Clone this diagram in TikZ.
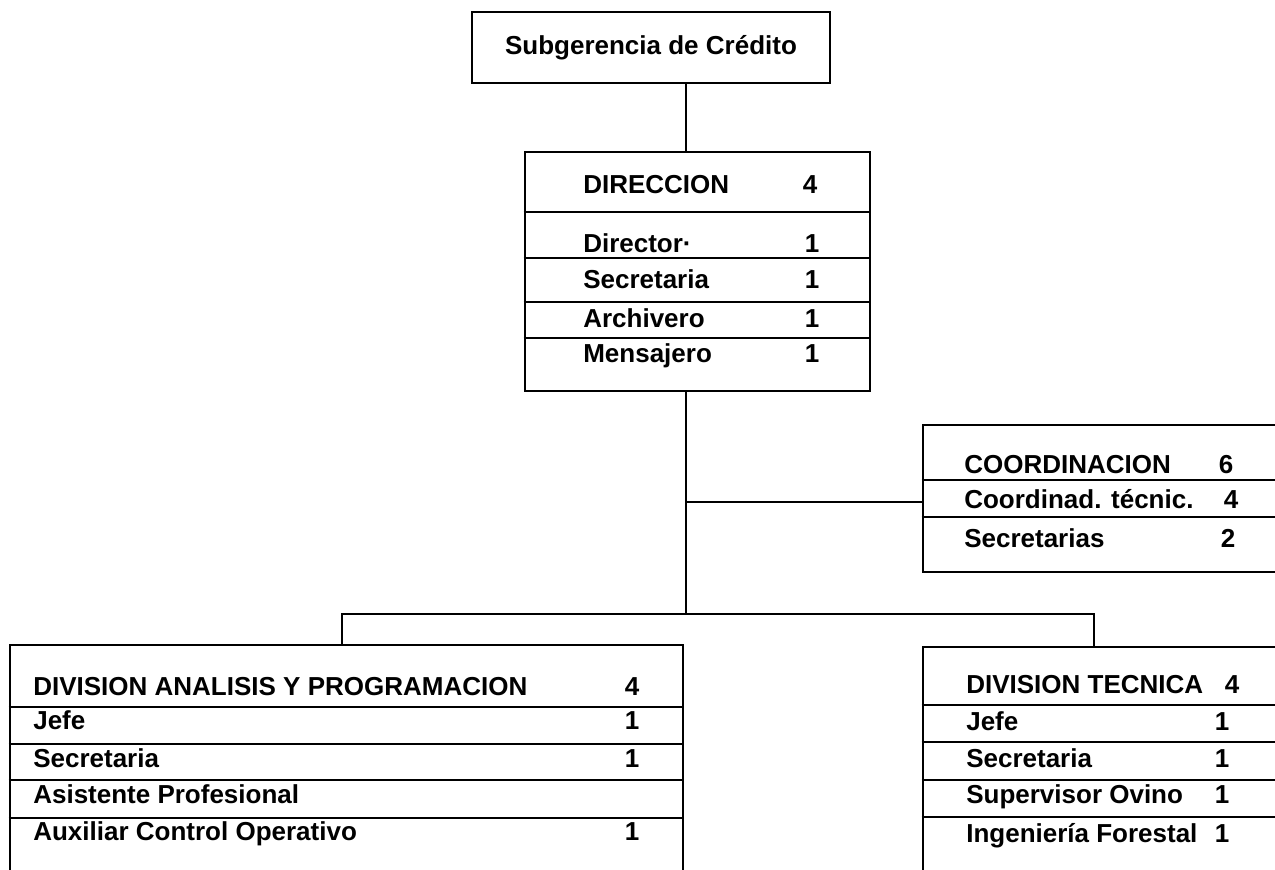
\documentclass[tikz,border=0pt]{standalone}
\usepackage{fontspec}
\setmainfont{Liberation Sans}
\tikzset{
  box/.style={draw, line width=2.6pt, inner sep=0pt},
  lbl/.style={anchor=base west, inner sep=0pt, font=\bfseries\fontsize{26}{30}\selectfont},
  num/.style={anchor=base, inner sep=0pt, font=\bfseries\fontsize{26}{30}\selectfont},
}
\begin{document}
\begin{tikzpicture}[x=1pt,y=-1pt,line width=2.6pt]
\useasboundingbox (0,0) rectangle (1275,870);
\clip (0,0) rectangle (1275,870);
%\draw [lightgray](0,0) grid (1275,870);

\node [box, minimum width=358pt, minimum height=71pt, font=\bfseries\fontsize{26}{30}\selectfont] (sub) at (651,47.5) {Subgerencia de Crédito};

% direccion
\node [box, minimum width=345pt, minimum height=239pt] (dir) at (697.5,271.5) {};
\foreach \y in {212,258,302,338} \draw (dir.west |- 0,\y) -- (dir.east |- 0,\y);
\node [lbl] (dir0) at (582,193) {DIRECCION};
\node [num] (dirn0) at (810,193) {4};
\node [lbl] (dir1) at (582,252) {Director·};
\node [num] (dirn1) at (812,252) {1};
\node [lbl] (dir2) at (582,288) {Secretaria};
\node [num] (dirn2) at (812,288) {1};
\node [lbl] (dir3) at (582,327) {Archivero};
\node [num] (dirn3) at (812,327) {1};
\node [lbl] (dir4) at (582,362) {Mensajero};
\node [num] (dirn4) at (812,362) {1};

% coordinacion
\node [box, minimum width=367pt, minimum height=147pt] (coord) at (1106.5,498.5) {};
\foreach \y in {480,517} \draw (coord.west |- 0,\y) -- (coord.east |- 0,\y);
\node [lbl] (co0) at (963,473) {COORDINACION};
\node [num] (con0) at (1226,473) {6};
\node [lbl] (co1) at (963,508) {Coordinad. técnic.};
\node [num] (con1) at (1231,508) {4};
\node [lbl] (co2) at (963,547) {Secretarias};
\node [num] (con2) at (1228,547) {2};

% division analisis y programacion
\node [box, minimum width=673pt, minimum height=240pt] (dap) at (346.5,765) {};
\foreach \y in {707,744,780,818} \draw (dap.west |- 0,\y) -- (dap.east |- 0,\y);
\node [lbl] (da0) at (32,695) {DIVISION ANALISIS Y PROGRAMACION};
\node [num] (dan0) at (632,695) {4};
\node [lbl] (da1) at (32,729) {Jefe};
\node [num] (dan1) at (632,729) {1};
\node [lbl] (da2) at (32,767) {Secretaria};
\node [num] (dan2) at (632,767) {1};
\node [lbl] (da3) at (32,803) {Asistente Profesional};
\node [lbl] (da4) at (32,840) {Auxiliar Control Operativo};
\node [num] (dan4) at (632,840) {1};

% division tecnica
\node [box, minimum width=367pt, minimum height=238pt] (dt) at (1106.5,766) {};
\foreach \y in {705,742,780,817} \draw (dt.west |- 0,\y) -- (dt.east |- 0,\y);
\node [lbl] (dt0) at (965,693) {DIVISION TECNICA};
\node [num] (dtn0) at (1232,693) {4};
\node [lbl] (dt1) at (965,730) {Jefe};
\node [num] (dtn1) at (1222,730) {1};
\node [lbl] (dt2) at (965,767) {Secretaria};
\node [num] (dtn2) at (1222,767) {1};
\node [lbl] (dt3) at (965,803) {Supervisor Ovino};
\node [num] (dtn3) at (1222,803) {1};
\node [lbl] (dt4) at (965,842) {Ingeniería Forestal};
\node [num] (dtn4) at (1222,842) {1};

\coordinate (j1) at (686,502);
\coordinate (j2) at (686,614);
\coordinate (bl) at (342,614);
\coordinate (br) at (1094,614);
\draw (sub.south -| j1) -- (dir.north -| j1);
\draw (dir.south -| j1) -- (j2);
\draw (j1) -- (coord.west |- j1);
\draw (dap.north -| bl) -- (bl) -- (br) -- (dt.north -| br);
\end{tikzpicture}
\end{document}
